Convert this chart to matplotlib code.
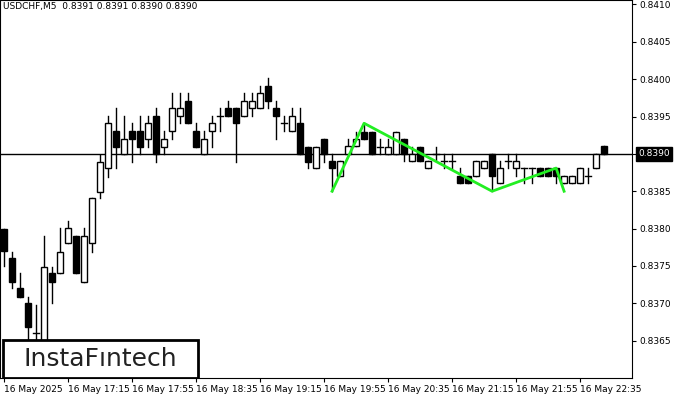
import matplotlib
matplotlib.use("Agg")
import matplotlib.pyplot as plt
from matplotlib.patches import Rectangle

# ================= DATA (USDCHF M5) =================
opens = [0.83800, 0.83761, 0.83721, 0.83701, 0.83660, 0.83640, 0.83741, 0.83741, 0.83781, 0.83790,
         0.83729, 0.83781, 0.83849, 0.83881, 0.83931, 0.83900, 0.83931, 0.83931, 0.83920, 0.83951,
         0.83909, 0.83931, 0.83951, 0.83971, 0.83931, 0.83900, 0.83931, 0.83951, 0.83962, 0.83962,
         0.83951, 0.83962, 0.83962, 0.83991, 0.83962, 0.83941, 0.83931, 0.83941, 0.83909, 0.83881,
         0.83920, 0.83891, 0.83871, 0.83900, 0.83911, 0.83929, 0.83929, 0.83909, 0.83900, 0.83900,
         0.83920, 0.83891, 0.83909, 0.83881, 0.83900, 0.83891, 0.83891, 0.83871, 0.83871, 0.83871,
         0.83881, 0.83900, 0.83861, 0.83891, 0.83881, 0.83881, 0.83881, 0.83881, 0.83881, 0.83881,
         0.83861, 0.83861, 0.83861, 0.83871, 0.83881, 0.83911]
highs = [0.83800, 0.83769, 0.83741, 0.83709, 0.83698, 0.83790, 0.83749, 0.83801, 0.83810, 0.83790,
         0.83801, 0.83841, 0.83899, 0.83951, 0.83962, 0.83951, 0.83941, 0.83951, 0.83951, 0.83962,
         0.83931, 0.83982, 0.83982, 0.83982, 0.83941, 0.83931, 0.83951, 0.83962, 0.83971, 0.83962,
         0.83982, 0.83982, 0.83991, 0.84002, 0.83971, 0.83951, 0.83962, 0.83962, 0.83909, 0.83909,
         0.83920, 0.83900, 0.83891, 0.83920, 0.83929, 0.83941, 0.83929, 0.83920, 0.83920, 0.83929,
         0.83920, 0.83909, 0.83909, 0.83891, 0.83909, 0.83900, 0.83900, 0.83881, 0.83871, 0.83891,
         0.83891, 0.83900, 0.83891, 0.83900, 0.83900, 0.83881, 0.83881, 0.83881, 0.83881, 0.83881,
         0.83871, 0.83871, 0.83881, 0.83881, 0.83900, 0.83911]
lows = [0.83750, 0.83721, 0.83709, 0.83640, 0.83630, 0.83620, 0.83701, 0.83741, 0.83781, 0.83741,
        0.83729, 0.83769, 0.83841, 0.83869, 0.83881, 0.83900, 0.83889, 0.83900, 0.83909, 0.83889,
        0.83900, 0.83920, 0.83941, 0.83941, 0.83909, 0.83900, 0.83909, 0.83931, 0.83951, 0.83889,
        0.83951, 0.83951, 0.83962, 0.83962, 0.83920, 0.83931, 0.83931, 0.83900, 0.83881, 0.83881,
        0.83889, 0.83850, 0.83871, 0.83900, 0.83911, 0.83920, 0.83900, 0.83900, 0.83900, 0.83900,
        0.83891, 0.83891, 0.83891, 0.83881, 0.83891, 0.83881, 0.83881, 0.83861, 0.83861, 0.83871,
        0.83881, 0.83850, 0.83861, 0.83881, 0.83871, 0.83861, 0.83861, 0.83871, 0.83871, 0.83861,
        0.83861, 0.83861, 0.83861, 0.83861, 0.83881, 0.83900]
closes = [0.83770, 0.83729, 0.83709, 0.83668, 0.83660, 0.83749, 0.83729, 0.83769, 0.83801, 0.83741,
          0.83790, 0.83841, 0.83889, 0.83941, 0.83909, 0.83920, 0.83920, 0.83909, 0.83941, 0.83900,
          0.83920, 0.83962, 0.83962, 0.83941, 0.83909, 0.83920, 0.83941, 0.83951, 0.83951, 0.83941,
          0.83971, 0.83971, 0.83982, 0.83971, 0.83951, 0.83941, 0.83951, 0.83900, 0.83889, 0.83909,
          0.83900, 0.83881, 0.83891, 0.83911, 0.83920, 0.83920, 0.83900, 0.83909, 0.83909, 0.83929,
          0.83900, 0.83900, 0.83891, 0.83891, 0.83900, 0.83891, 0.83891, 0.83861, 0.83861, 0.83891,
          0.83891, 0.83871, 0.83881, 0.83891, 0.83891, 0.83881, 0.83881, 0.83871, 0.83871, 0.83871,
          0.83871, 0.83871, 0.83881, 0.83871, 0.83900, 0.83900]

pattern_idx = [41, 45, 61, 69, 70]
pattern_price = [0.83850, 0.83941, 0.83850, 0.83881, 0.83850]

tick_idx = [0, 8, 16, 24, 32, 40, 48, 56, 64, 72]
tick_labels = ["16 May 2025", "16 May 17:15", "16 May 17:55", "16 May 18:35", "16 May 19:15",
               "16 May 19:55", "16 May 20:35", "16 May 21:15", "16 May 21:55", "16 May 22:35"]
price_ticks = [0.8365, 0.8370, 0.8375, 0.8380, 0.8385, 0.8390, 0.8395, 0.8400, 0.8405, 0.8410]
last_price = 0.8390

# ================= PLOT =================
fig = plt.figure(figsize=(7, 4), dpi=100)
ax = fig.add_axes([0.0, 0.055, 0.903, 0.945])

for i, (o, h, l, c) in enumerate(zip(opens, highs, lows, closes)):
    ax.plot([i, i], [l, h], color="black", lw=1, zorder=2)
    bottom, top = min(o, c), max(o, c)
    face = "black" if c < o else "white"
    if top - bottom < 0.00002:
        ax.plot([i - 0.35, i + 0.35], [o, o], color="black", lw=1, zorder=3)
    else:
        ax.add_patch(Rectangle((i - 0.33, bottom), 0.66, top - bottom,
                               facecolor=face, edgecolor="black", lw=1, zorder=3))

ax.axhline(last_price, color="black", lw=1, zorder=1)
ax.plot(pattern_idx, pattern_price, color="#22ee22", lw=2, zorder=4)

ax.set_xlim(-0.5, 78.5)
ax.set_ylim(0.83600, 0.84106)
ax.set_xticks(tick_idx)
ax.set_xticklabels(tick_labels, fontsize=6.5, ha="left")
ax.yaxis.tick_right()
ax.set_yticks(price_ticks)
ax.set_yticklabels([f"{p:.4f}" for p in price_ticks], fontsize=6.5)
ax.tick_params(direction="out", length=3, pad=2)
for s in ax.spines.values():
    s.set_color("black")

ax.text(0.005, 0.995, "USDCHF,M5  0.8391 0.8391 0.8390 0.8390", transform=ax.transAxes,
        fontsize=6.5, va="top", ha="left")

# price tag on the right axis
ax.text(1.01, last_price, "0.8390", transform=ax.get_yaxis_transform(), fontsize=6.5,
        color="white", va="center", ha="left",
        bbox=dict(boxstyle="square,pad=0.25", facecolor="black", edgecolor="black"), clip_on=False)

# logo
ax.add_patch(Rectangle((0.004, 0.0), 0.31, 0.1, transform=ax.transAxes, facecolor="white",
                       edgecolor="black", lw=2, zorder=6))
ax.text(0.159, 0.05, "InstaFıntech", transform=ax.transAxes, fontsize=18, color="#222222",
        ha="center", va="center", zorder=7)

fig.savefig("out.png", dpi=100)
